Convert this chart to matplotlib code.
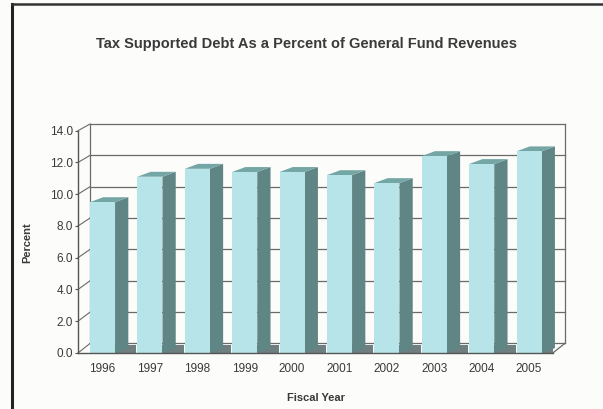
import matplotlib
matplotlib.use("Agg")
import matplotlib.pyplot as plt
from matplotlib.patches import Polygon
from matplotlib.lines import Line2D

years = ["1996", "1997", "1998", "1999", "2000",
         "2001", "2002", "2003", "2004", "2005"]
debt_pct = [9.5, 11.1, 11.6, 11.4, 11.4, 11.2, 10.7, 12.4, 11.9, 12.7]
yticks = [0, 2, 4, 6, 8, 10, 12, 14]

FRONT = "#b6e4e8"
SIDE = "#5f8585"
TOP = "#74a6a6"
GRID = "#6a6a6a"
TEXT = "#3a3a3a"

# 3-D look: bars and walls are pushed back by these offsets (data units)
bar_w = 0.53
bar_dx, bar_dy = 0.28, 0.31
wall_x0, wall_x1 = -0.517, 9.5
wall_dx = 0.253


def back(v):
    # back-wall height for a front-scale value (slight perspective)
    return 0.6 + v * 0.987


fig = plt.figure(figsize=(6.03, 4.09), dpi=100, facecolor="#fcfcfb")
ax = fig.add_axes([0.12282, 0.11751, 0.82537, 0.59403])
ax.set_xlim(-0.6, 9.9)
ax.set_ylim(-0.5, 14.8)
ax.set_facecolor("none")

# back wall gridlines plus the left-wall diagonals
for v in yticks:
    ax.plot([wall_x0 + wall_dx, wall_x1 + wall_dx], [back(v), back(v)],
            color=GRID, lw=0.9, zorder=1)
    ax.plot([wall_x0, wall_x0 + wall_dx], [v, back(v)],
            color=GRID, lw=0.8, zorder=1)
ax.plot([wall_x0 + wall_dx] * 2, [back(0), back(14)], color=GRID, lw=0.9, zorder=1)
ax.plot([wall_x1 + wall_dx] * 2, [back(0), back(14)], color=GRID, lw=0.9, zorder=1)
ax.plot([wall_x1, wall_x1 + wall_dx], [0, back(0)], color=GRID, lw=0.9, zorder=1)

for i, val in enumerate(debt_pct):
    x0 = i - bar_w / 2
    x1 = i + bar_w / 2
    # floor shadow behind the bar, kept inside the floor
    xs = min(x1 + 0.45, wall_x1)
    ax.add_patch(Polygon([(x1, 0), (xs, 0), (xs, 0.5), (x1, 0.5)],
                         closed=True, facecolor="#6f7f7f", edgecolor="none", zorder=2))
    ax.add_patch(Polygon([(x1, 0), (x1 + bar_dx, bar_dy),
                          (x1 + bar_dx, val + bar_dy), (x1, val)],
                         closed=True, facecolor=SIDE, edgecolor="none", zorder=3))
    ax.add_patch(Polygon([(x0, val), (x1, val),
                          (x1 + bar_dx, val + bar_dy), (x0 + bar_dx, val + bar_dy)],
                         closed=True, facecolor=TOP, edgecolor="none", zorder=3))
    ax.add_patch(Polygon([(x0, 0), (x1, 0), (x1, val), (x0, val)],
                         closed=True, facecolor=FRONT, edgecolor="none", zorder=4))

for s in ["top", "right"]:
    ax.spines[s].set_visible(False)
ax.spines["left"].set_position(("data", wall_x0))
ax.spines["left"].set_bounds(0, 14)
ax.spines["bottom"].set_position(("data", 0))
ax.spines["bottom"].set_bounds(wall_x0, wall_x1)
for s in ["left", "bottom"]:
    ax.spines[s].set_color("#555555")
    ax.spines[s].set_linewidth(1.0)
    ax.spines[s].set_zorder(5)

ax.set_yticks(yticks)
ax.set_yticklabels([f"{v:.1f}" for v in yticks])
ax.set_xticks(range(len(years)))
ax.set_xticklabels(years)
ax.tick_params(axis="y", length=2.5, width=0.8, color="#555555", pad=1,
               labelsize=8.5, labelcolor=TEXT)
ax.tick_params(axis="x", length=0, pad=7, labelsize=8.5, labelcolor=TEXT)
for lbl in ax.get_xticklabels() + ax.get_yticklabels():
    lbl.set_family("Liberation Sans")

fig.text(0.509, 0.892, "Tax Supported Debt As a Percent of General Fund Revenues",
         ha="center", va="center", fontsize=10.5, fontweight="bold",
         family="Liberation Sans", color=TEXT)
fig.text(0.045, 0.406, "Percent", rotation=90, ha="center", va="center",
         fontsize=8, fontweight="bold", family="Liberation Sans", color=TEXT)
fig.text(0.524, 0.027, "Fiscal Year", ha="center", va="center",
         fontsize=8, fontweight="bold", family="Liberation Sans", color=TEXT)

# page frame (left and top edges)
fig.add_artist(Line2D([0.020, 0.020], [0.0, 0.990], transform=fig.transFigure,
                      color="#222222", lw=2.2))
fig.add_artist(Line2D([0.020, 1.0], [0.990, 0.990], transform=fig.transFigure,
                      color="#333333", lw=1.8))

fig.savefig("out.png", dpi=100, facecolor=fig.get_facecolor())
